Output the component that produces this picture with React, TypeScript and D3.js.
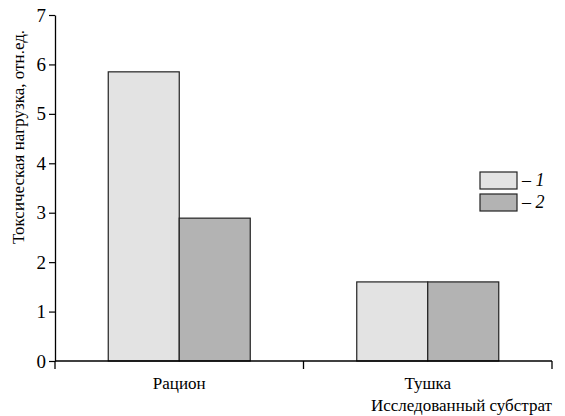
import React, { useRef, useEffect } from 'react';
import * as d3 from 'd3';

const categories = ['Рацион', 'Тушка'];
const seriesKeys = ['1', '2'];
const series1 = [5.85, 1.6];
const series2 = [2.89, 1.6];
const yTicks = [0, 1, 2, 3, 4, 5, 6, 7];
const colors = ['#e3e3e3', '#b3b3b3'];

const width = 565;
const height = 416;
const font = "'Liberation Serif', 'DejaVu Serif', serif";

const App = () => {
  const ref = useRef<SVGSVGElement>(null);

  useEffect(() => {
    const margin = { top: 15, right: 13, bottom: 55, left: 55 };
    const svg = d3.select(ref.current)
      .attr('width', width)
      .attr('height', height)
      .style('font-family', font);
    svg.selectAll('*').remove();

    const chartW = width - margin.left - margin.right;
    const chartH = height - margin.top - margin.bottom;

    const x = d3.scaleBand().domain(categories).range([0, chartW]).padding(0);
    const groupW = 142;
    const xs = d3.scaleBand().domain(seriesKeys).range([0, groupW]).padding(0);
    const y = d3.scaleLinear().domain([0, 7]).range([chartH, 0]);

    const g = svg.append('g').attr('transform', `translate(${margin.left},${margin.top})`);

    const data = categories.map((c, i) => ({ cat: c, vals: [series1[i], series2[i]] }));

    const groups = g.selectAll('g.grp')
      .data(data)
      .join('g')
      .attr('class', 'grp')
      .attr('transform', d => `translate(${(x(d.cat) as number) + (x.bandwidth() - groupW) / 2},0)`);

    groups.selectAll('rect')
      .data(d => d.vals.map((v, k) => ({ key: seriesKeys[k], v, k })))
      .join('rect')
      .attr('x', d => xs(d.key) as number)
      .attr('width', xs.bandwidth())
      .attr('y', d => y(d.v))
      .attr('height', d => chartH - y(d.v))
      .attr('fill', d => colors[d.k])
      .attr('stroke', '#222')
      .attr('stroke-width', 1.2);

    // y axis
    const yAxis = g.append('g')
      .call(d3.axisLeft(y).tickValues(yTicks).tickFormat(d3.format('d')).tickSize(6).tickPadding(3).tickSizeOuter(0));
    yAxis.attr('font-family', null);
    yAxis.select('.domain').attr('stroke', '#000').attr('stroke-width', 1.3);
    yAxis.selectAll('line').attr('stroke', '#000').attr('stroke-width', 1.2);
    yAxis.selectAll('text')
      .style('font-family', font)
      .attr('font-size', 19)
      .attr('fill', '#000');

    // x axis
    const xAxisG = g.append('g').attr('transform', `translate(0,${chartH})`);
    xAxisG.append('line')
      .attr('x1', 0).attr('x2', chartW)
      .attr('stroke', '#000').attr('stroke-width', 1.3);
    const tickPos = [0, ...categories.map(c => (x(c) as number) + x.bandwidth())];
    xAxisG.selectAll('line.tk')
      .data(tickPos)
      .join('line')
      .attr('class', 'tk')
      .attr('x1', d => d).attr('x2', d => d)
      .attr('y1', 0).attr('y2', 8)
      .attr('stroke', '#000').attr('stroke-width', 1.3);
    xAxisG.selectAll('text.cat')
      .data(categories)
      .join('text')
      .attr('class', 'cat')
      .attr('x', d => (x(d) as number) + x.bandwidth() / 2)
      .attr('y', 28)
      .attr('text-anchor', 'middle')
      .attr('font-size', 17)
      .text(d => d);

    xAxisG.append('text')
      .attr('x', chartW)
      .attr('y', 50)
      .attr('text-anchor', 'end')
      .attr('font-size', 17)
      .text('Исследованный субстрат');

    // y label
    svg.append('text')
      .attr('transform', 'translate(24,137) rotate(-90)')
      .attr('text-anchor', 'middle')
      .attr('font-size', 17)
      .text('Токсическая нагрузка, отн.ед.');

    // legend
    const legend = svg.append('g').attr('transform', 'translate(480,172)');
    seriesKeys.forEach((k, i) => {
      const row = legend.append('g').attr('transform', `translate(0,${i * 22})`);
      row.append('rect')
        .attr('width', 37).attr('height', 17)
        .attr('fill', colors[i])
        .attr('stroke', '#222').attr('stroke-width', 1.2);
      const t = row.append('text')
        .attr('x', 42).attr('y', 14)
        .attr('font-size', 18);
      t.append('tspan').text('– ');
      t.append('tspan').attr('font-style', 'italic').text(k);
    });
  }, []);

  return (
    <svg ref={ref} style={{ position: 'absolute', left: 0, top: 0, background: '#fff' }} />
  );
};

export default App;
